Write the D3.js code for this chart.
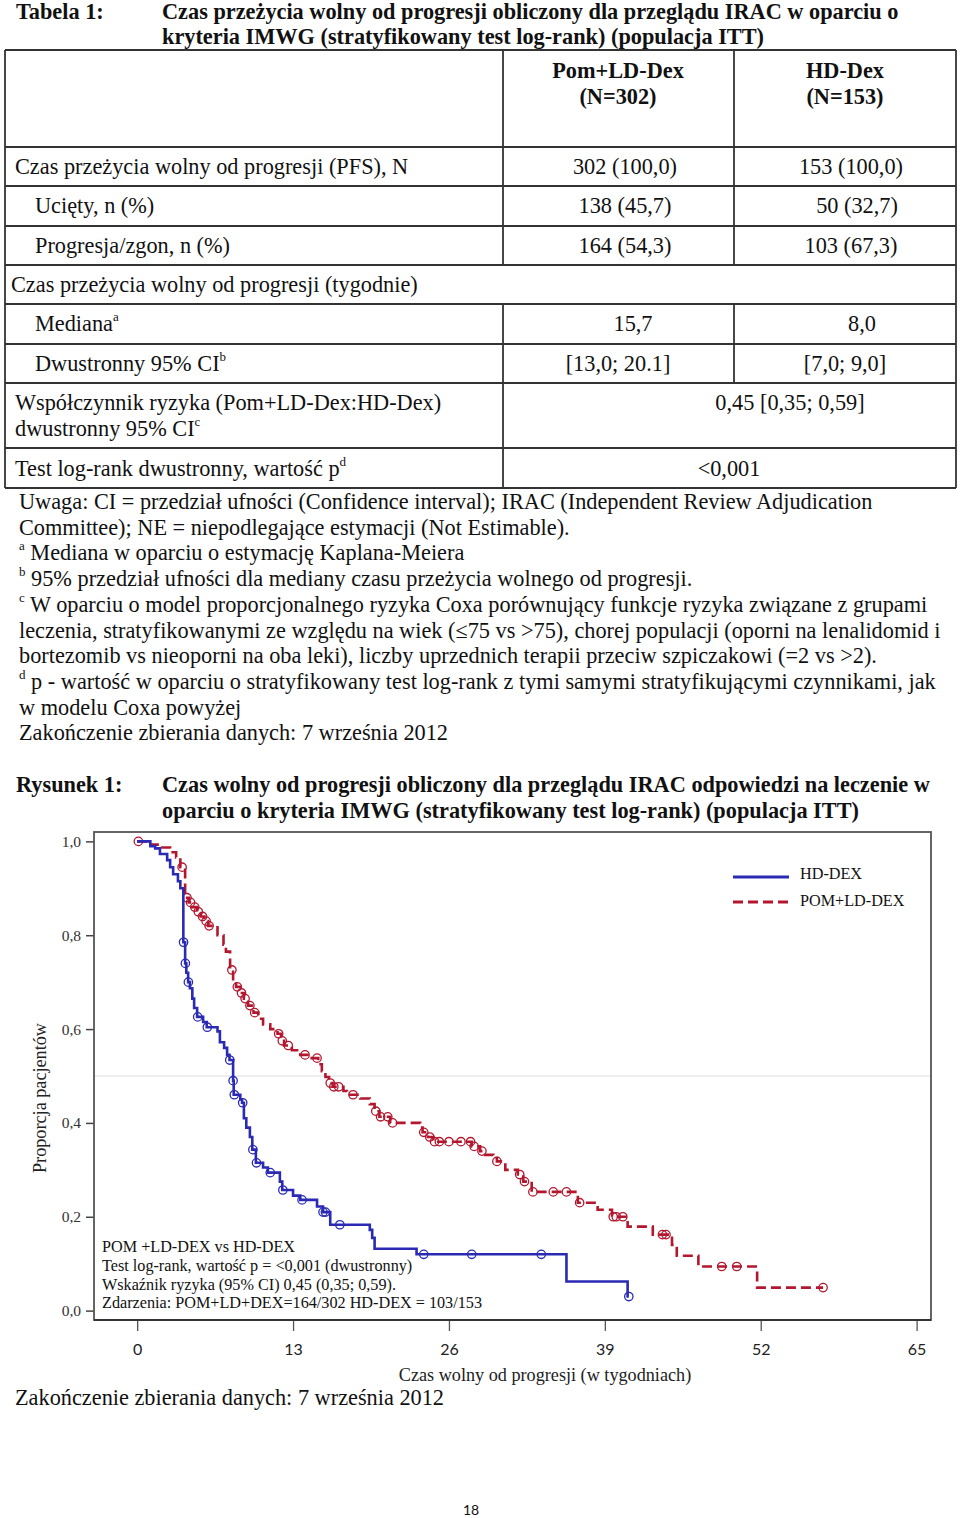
<!DOCTYPE html>
<html><head><meta charset="utf-8">
<script src="https://cdn.jsdelivr.net/npm/d3@7"></script>
<style>body{margin:0;background:#fff} svg{display:block}</style>
</head><body><svg id="page" width="960" height="1518"></svg>
<script>
// ---------- DATA ----------
const tableTitle = ["Czas przeżycia wolny od progresji obliczony dla przeglądu IRAC w oparciu o",
  "kryteria IMWG (stratyfikowany test log-rank) (populacja ITT)"];
const groupNames = ["Pom+LD-Dex", "HD-Dex"];
const groupN = ["(N=302)", "(N=153)"];
const rowLabels = ["Czas przeżycia wolny od progresji (PFS), N", "Ucięty, n (%)", "Progresja/zgon, n (%)",
  "Czas przeżycia wolny od progresji (tygodnie)", "Mediana", "Dwustronny 95% CI",
  "Współczynnik ryzyka (Pom+LD-Dex:HD-Dex)", "Test log-rank dwustronny, wartość p"];
const rowSup = ["", "", "", "", "a", "b", "", "d"];
const pomValues = ["302 (100,0)", "138 (45,7)", "164 (54,3)", "", "15,7", "[13,0; 20.1]"];
const hdValues = ["153 (100,0)", "50 (32,7)", "103 (67,3)", "", "8,0", "[7,0; 9,0]"];
const hazardRatio = "0,45 [0,35; 0,59]";
const pValue = "<0,001";
const notes = [
  ["", "Uwaga: CI = przedział ufności (Confidence interval); IRAC (Independent Review Adjudication"],
  ["", "Committee); NE = niepodlegające estymacji (Not Estimable)."],
  ["a", " Mediana w oparciu o estymację Kaplana-Meiera"],
  ["b", " 95% przedział ufności dla mediany czasu przeżycia wolnego od progresji."],
  ["c", " W oparciu o model proporcjonalnego ryzyka Coxa porównujący funkcje ryzyka związane z grupami"],
  ["", "leczenia, stratyfikowanymi ze względu na wiek (≤75 vs >75), chorej populacji (oporni na lenalidomid i"],
  ["", "bortezomib vs nieoporni na oba leki), liczby uprzednich terapii przeciw szpiczakowi (=2 vs >2)."],
  ["d", " p - wartość w oparciu o stratyfikowany test log-rank z tymi samymi stratyfikującymi czynnikami, jak"],
  ["", "w modelu Coxa powyżej"],
  ["", "Zakończenie zbierania danych: 7 września 2012"]
];
const figTitle = ["Czas wolny od progresji obliczony dla przeglądu IRAC odpowiedzi na leczenie w",
  "oparciu o kryteria IMWG (stratyfikowany test log-rank) (populacja ITT)"];
const timeTicks = [0, 13, 26, 39, 52, 65];
const survTicks = [0, 0.2, 0.4, 0.6, 0.8, 1.0];
const seriesNames = ["HD-DEX", "POM+LD-DEX"];
// Kaplan-Meier steps: [week, survival]
const hdSteps = [[0,1.0],[1.1,0.99],[1.5,0.985],[1.9,0.973],[2.5,0.96],[2.75,0.945],[3.0,0.93],[3.4,0.915],[3.6,0.90],
  [3.85,0.785],[4.0,0.74],[4.1,0.72],[4.25,0.70],[4.4,0.687],[4.6,0.665],[4.75,0.645],[5.0,0.626],[5.5,0.615],
  [5.8,0.604],[6.7,0.595],[6.9,0.572],[7.25,0.56],[7.5,0.545],[7.7,0.534],[8.0,0.49],[8.05,0.46],[8.6,0.45],
  [8.75,0.443],[8.9,0.41],[9.1,0.39],[9.4,0.37],[9.6,0.343],[9.9,0.315],[10.5,0.305],[10.9,0.294],[11.9,0.275],
  [12.1,0.257],[13.0,0.245],[13.6,0.236],[15.0,0.222],[15.5,0.21],[16.1,0.183],[19.4,0.172],[19.6,0.155],
  [19.8,0.132],[23.3,0.12],[35.8,0.062],[40.9,0.03],[41.0,0.03]];
const hdCensored = [3.87, 4.02, 4.27, 5.05, 5.85, 7.72, 8.0, 8.1, 8.8, 9.65, 9.95, 11.1, 12.15, 13.75, 15.5, 15.7,
  16.9, 23.9, 27.9, 33.7, 41.0];
const pomSteps = [[0,1.0],[1.1,0.993],[1.9,0.987],[2.75,0.977],[3.25,0.966],[3.6,0.945],[4.0,0.88],[4.3,0.87],
  [4.6,0.86],[5.0,0.85],[5.3,0.84],[5.6,0.83],[5.9,0.82],[6.7,0.80],[7.2,0.78],[7.4,0.765],[7.75,0.726],[8.0,0.70],
  [8.25,0.69],[8.6,0.677],[8.9,0.665],[9.25,0.65],[9.7,0.635],[10.1,0.622],[10.5,0.61],[11.1,0.60],[11.7,0.59],
  [12.0,0.575],[12.25,0.565],[12.9,0.555],[13.6,0.545],[14.2,0.538],[15.1,0.525],[15.4,0.51],[15.7,0.498],
  [16.0,0.485],[16.3,0.477],[17.2,0.468],[17.5,0.46],[18.6,0.452],[19.4,0.44],[19.8,0.425],[20.2,0.413],
  [21.1,0.40],[23.6,0.39],[23.8,0.38],[24.25,0.37],[24.7,0.36],[27.9,0.35],[28.6,0.34],[28.9,0.332],[29.7,0.325],
  [30.0,0.318],[30.7,0.30],[31.75,0.29],[32.2,0.275],[32.9,0.253],[36.75,0.23],[38.4,0.215],[39.6,0.20],
  [40.9,0.179],[43.0,0.162],[44.6,0.14],[45.0,0.117],[46.8,0.094],[51.7,0.049],[57.2,0.049]];
const pomCensored = [0.1, 3.75, 4.15, 4.45, 4.8, 5.1, 5.45, 5.75, 6.0, 7.9, 8.35, 8.7, 9.0, 9.4, 9.8, 11.8, 12.1,
  12.6, 14.0, 15.0, 16.1, 16.4, 16.8, 18.0, 19.9, 20.3, 20.9, 21.3, 23.9, 24.4, 24.8, 25.2, 26.0, 27.0, 27.8, 28.1,
  28.75, 30.0, 31.9, 32.3, 33.0, 34.7, 35.8, 36.9, 39.7, 39.95, 40.5, 43.8, 44.1, 48.75, 50.0, 57.2];
const annotation = ["POM +LD-DEX vs HD-DEX", "Test log-rank, wartość p = <0,001 (dwustronny)",
  "Wskaźnik ryzyka (95% CI) 0,45 (0,35; 0,59).", "Zdarzenia: POM+LD+DEX=164/302 HD-DEX = 103/153"];

// ---------- DRAW ----------
const svg = d3.select("#page");
const serif = "'Liberation Serif','Times New Roman',serif";
const sans = "Lato,'Open Sans',sans-serif";
const FS = 22.3;
function txt(x, y, s, o = {}) {
  return svg.append("text").attr("x", x).attr("y", y).text(s)
    .attr("font-family", o.family || serif).attr("font-size", o.size || FS)
    .attr("font-weight", o.bold ? "bold" : "normal").attr("fill", o.fill || "#111")
    .attr("text-anchor", o.anchor || "start");
}
function supTxt(x, y, s, sup, o = {}) {
  const t = txt(x, y, s, o);
  if (sup) t.append("tspan").attr("font-size", 13).attr("dy", -10).text(sup);
  return t;
}

// Table title
txt(16, 19, "Tabela 1:", {bold: true});
tableTitle.forEach((s, i) => txt(162, 19 + i * 25, s, {bold: true}));

// Table grid
const tl = svg.append("g").attr("stroke", "#333").attr("stroke-width", 1.8);
const hY = [50, 147, 186, 226, 265, 304, 344, 383, 448, 488];
hY.forEach(yv => tl.append("line").attr("x1", 5).attr("x2", 956).attr("y1", yv).attr("y2", yv));
tl.append("line").attr("x1", 5).attr("x2", 5).attr("y1", 50).attr("y2", 488);
tl.append("line").attr("x1", 956).attr("x2", 956).attr("y1", 50).attr("y2", 488);
[[503, 50, 265], [503, 304, 488], [734, 50, 265], [734, 304, 383]].forEach(([xv, a, b]) =>
  tl.append("line").attr("x1", xv).attr("x2", xv).attr("y1", a).attr("y2", b));

// header
groupNames.forEach((g, i) => {
  const cx = [618, 845][i];
  txt(cx, 78, g, {bold: true, anchor: "middle"});
  txt(cx, 104, groupN[i], {bold: true, anchor: "middle"});
});
const rowBase = [174, 213, 253, 292, 331, 371, 410, 476];
const rowX = [15, 35, 35, 11, 35, 35, 15, 15];
rowLabels.forEach((l, i) => supTxt(rowX[i], rowBase[i], l, rowSup[i]));
supTxt(15, 436, "dwustronny 95% CI", "c");
const pomX = [625, 625, 625, 0, 633, 618];
const hdX = [851, 857, 851, 0, 862, 845];
pomValues.forEach((v, i) => { if (v) txt(pomX[i], rowBase[i], v, {anchor: "middle"}); });
hdValues.forEach((v, i) => { if (v) txt(hdX[i], rowBase[i], v, {anchor: "middle"}); });
txt(790, 410, hazardRatio, {anchor: "middle"});
txt(729, 476, pValue, {anchor: "middle"});

// Notes
notes.forEach(([sup, s], i) => {
  const yv = 509 + i * 25.7;
  const t = txt(19, yv, "", {});
  if (sup) t.append("tspan").attr("font-size", 13).attr("dy", -10).text(sup);
  t.append("tspan").attr("dy", sup ? 10 : 0).text(s);
});

// Figure title
txt(16, 792, "Rysunek 1:", {bold: true});
figTitle.forEach((s, i) => txt(162, 792 + i * 26, s, {bold: true}));

// ---------- CHART ----------
const x = d3.scaleLinear().domain([-3.6, 66.2]).range([94, 931]);
const y = d3.scaleLinear().domain([-0.02, 1.02]).range([1320, 832]);

svg.append("line").attr("x1", x.range()[0]).attr("x2", x.range()[1]).attr("y1", y(0.5)).attr("y2", y(0.5))
  .attr("stroke", "#dcdcdc").attr("stroke-width", 1);

const yAxis = svg.append("g").attr("transform", "translate(94,0)")
  .call(d3.axisLeft(y).tickValues(survTicks).tickSize(8).tickPadding(5)
    .tickFormat(d => d3.format(".1f")(d).replace(".", ",")));
yAxis.select(".domain").remove();
yAxis.selectAll("line").attr("stroke", "#444").attr("stroke-width", 1.5);
yAxis.selectAll("text").attr("font-family", serif).attr("font-size", 15.5).attr("fill", "#333");

const xAxis = svg.append("g").attr("transform", "translate(0,1320)")
  .call(d3.axisBottom(x).tickValues(timeTicks).tickSize(11).tickPadding(13));
xAxis.select(".domain").remove();
xAxis.selectAll("line").attr("stroke", "#555").attr("stroke-width", 1.3);
xAxis.selectAll("text").attr("font-family", sans).attr("font-size", 16).attr("fill", "#222");

svg.append("rect").attr("x", 94).attr("y", 832).attr("width", 837).attr("height", 488)
  .attr("fill", "none").attr("stroke", "#555").attr("stroke-width", 1.8);
svg.append("line").attr("x1", 94).attr("x2", 931).attr("y1", 1320).attr("y2", 1320)
  .attr("stroke", "#333").attr("stroke-width", 2.2);

const colors = {hd: "#2a2ab4", pom: "#b3172e"};
const line = d3.line().x(d => x(d[0])).y(d => y(d[1])).curve(d3.curveStepAfter);
function survAt(steps, t) {
  const i = d3.bisectRight(steps.map(d => d[0]), t) - 1;
  return steps[Math.max(0, i)][1];
}
function drawSeries(steps, cens, color, dash) {
  svg.append("path").datum(steps).attr("d", line).attr("fill", "none")
    .attr("stroke", color).attr("stroke-width", 2.6).attr("stroke-dasharray", dash || null);
  svg.append("g").selectAll("circle").data(cens).join("circle")
    .attr("cx", d => x(d)).attr("cy", d => y(survAt(steps, d))).attr("r", 4.2)
    .attr("fill", "none").attr("stroke", color).attr("stroke-width", 1.3);
}
drawSeries(pomSteps, pomCensored, colors.pom, "10,5");
drawSeries(hdSteps, hdCensored, colors.hd, null);

// legend
svg.append("line").attr("x1", 733).attr("x2", 789).attr("y1", 877).attr("y2", 877)
  .attr("stroke", colors.hd).attr("stroke-width", 2.8);
svg.append("line").attr("x1", 733).attr("x2", 789).attr("y1", 902).attr("y2", 902)
  .attr("stroke", colors.pom).attr("stroke-width", 2.8).attr("stroke-dasharray", "10,5");
txt(800, 879, seriesNames[0], {size: 16.2});
txt(800, 906, seriesNames[1], {size: 16.2});

// annotation
annotation.forEach((s, i) => txt(102, 1252 + i * 18.8, s, {size: 16.2}));

// axis titles
svg.append("text").attr("transform", "translate(46,1098) rotate(-90)").attr("text-anchor", "middle")
  .attr("font-family", serif).attr("font-size", 18.2).attr("fill", "#222").text("Proporcja pacjentów");
txt(545, 1381, "Czas wolny od progresji (w tygodniach)", {size: 18.2, anchor: "middle", fill: "#222"});

txt(15, 1405, "Zakończenie zbierania danych: 7 września 2012", {size: FS});
txt(471, 1515, "18", {size: 14, anchor: "middle", family: sans});
</script></body></html>
